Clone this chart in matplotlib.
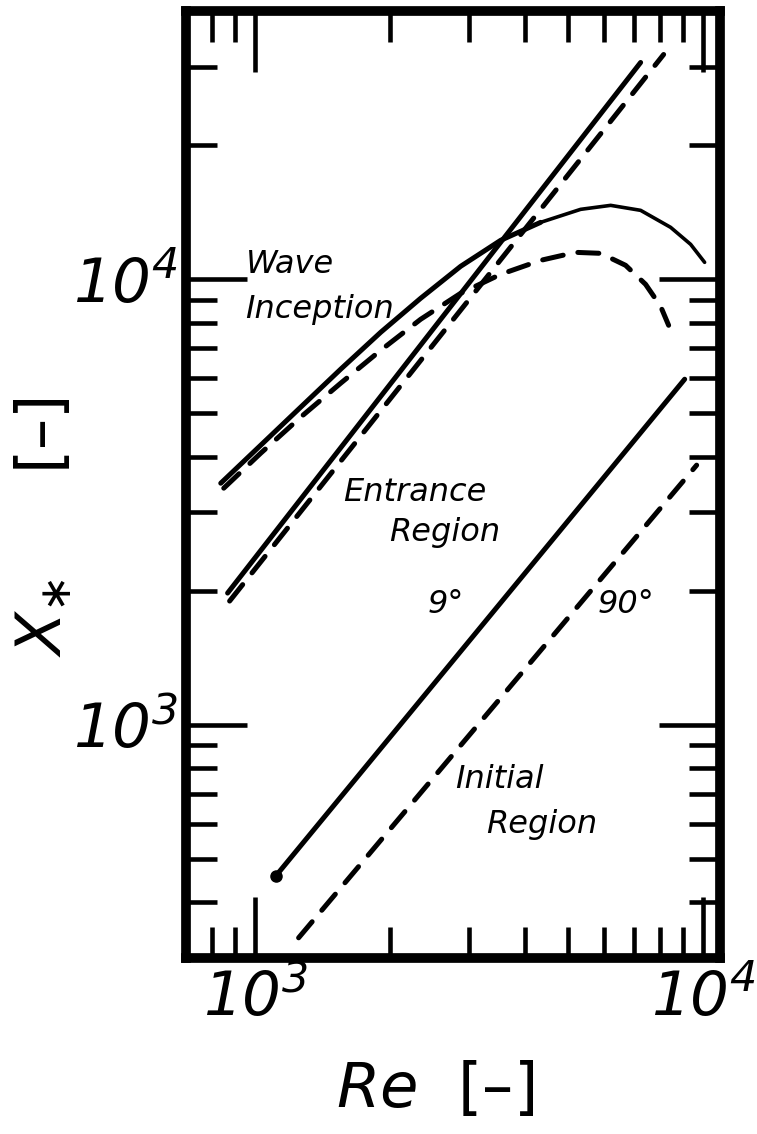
import matplotlib
matplotlib.use('Agg')
import matplotlib.pyplot as plt
from matplotlib.ticker import LogLocator, NullFormatter, FixedLocator, FixedFormatter

plt.rcParams['font.family'] = ['DejaVu Sans']
plt.rcParams['mathtext.fontset'] = 'custom'
plt.rcParams['mathtext.rm'] = 'DejaVu Sans:italic'
plt.rcParams['mathtext.it'] = 'DejaVu Sans:italic'

# wave inception: 9 deg (solid) and 90 deg (dashed)
re_wave_9 = [837, 1028, 1262, 1550, 1905, 2339, 2873, 3529, 4334, 5324, 6213, 7248, 8456, 9373, 10072]
xs_wave_9 = [3487, 4244, 5164, 6283, 7606, 9066, 10694, 12231, 13421, 14355, 14654, 14281, 13081, 11981, 10917]
re_wave_90 = [850, 1028, 1262, 1550, 1905, 2339, 2873, 3529, 4334, 5189, 5901, 6709, 7435, 8033, 8370]
xs_wave_90 = [3399, 4073, 4905, 5845, 6931, 8134, 9303, 10261, 11030, 11495, 11437, 10750, 9745, 8699, 7886]

# entrance region
re_entr_9 = [867, 7248]
xs_entr_9 = [1977, 30660]
re_entr_90 = [876, 8158]
xs_entr_90 = [1897, 31950]

# initial region
re_init_9 = [1110, 9090]
xs_init_9 = [458, 5968]
re_init_90 = [1249, 9667]
xs_init_90 = [333, 3828]

# curve annotations: text, Re, X*
notes = [
    ('Wave', 951, 10315),
    ('Inception', 951, 8176),
    ('Entrance', 1574, 3178),
    ('Region', 1985, 2585),
    ('9°', 2420, 1783),
    ('90°', 5800, 1783),
    ('Initial', 2800, 722),
    ('Region', 3268, 573),
]

major_ticks = [1e3, 1e4]
major_labels = [r'$10^3$', r'$10^4$']


def _main() -> None:
    fig = plt.figure(figsize=(7.57, 11.34), dpi=100)
    ax = fig.add_axes([0.2457, 0.1552, 0.7054, 0.8351])
    ax.set_xscale('log')
    ax.set_yscale('log')
    ax.set_xlim(700, 10900)
    ax.set_ylim(300, 40000)

    lw = 3.6
    dash = dict(linestyle=(0, (4.2, 3.0)), dash_capstyle='round')
    solid = dict(solid_capstyle='round', solid_joinstyle='round')
    # the wave curve thins out past its maximum
    k = 8
    ax.plot(re_wave_9[:k + 1], xs_wave_9[:k + 1], 'k-', lw=lw, **solid)
    ax.plot(re_wave_9[k:], xs_wave_9[k:], 'k-', lw=2.6, **solid)
    ax.plot(re_wave_90, xs_wave_90, 'k', lw=lw, **dash)
    ax.plot(re_entr_9, xs_entr_9, 'k-', lw=lw, **solid)
    ax.plot(re_entr_90, xs_entr_90, 'k', lw=lw, **dash)
    ax.plot(re_init_9, xs_init_9, 'k-', lw=lw, marker='o', markevery=[0],
            markersize=8, **solid)
    ax.plot(re_init_90, xs_init_90, 'k', lw=lw, **dash)

    for text, x, y in notes:
        ax.text(x, y, text, fontsize=23, style='italic', ha='left', va='baseline')

    ax.xaxis.set_major_locator(FixedLocator(major_ticks))
    ax.yaxis.set_major_locator(FixedLocator(major_ticks))
    ax.xaxis.set_major_formatter(FixedFormatter(major_labels))
    ax.yaxis.set_major_formatter(FixedFormatter(major_labels))
    ax.xaxis.set_minor_locator(LogLocator(base=10, subs=range(2, 10), numticks=20))
    ax.yaxis.set_minor_locator(LogLocator(base=10, subs=range(2, 10), numticks=20))
    ax.xaxis.set_minor_formatter(NullFormatter())
    ax.yaxis.set_minor_formatter(NullFormatter())

    ax.tick_params(which='both', direction='in', top=True, right=True, width=3.3)
    ax.tick_params(which='major', length=44, labelsize=44)
    ax.tick_params(which='minor', length=22)
    ax.tick_params(axis='x', which='major', pad=8)
    ax.tick_params(axis='y', which='major', pad=6)

    for spine in ax.spines.values():
        spine.set_linewidth(7)
        spine.set_capstyle('projecting')

    ax.set_xlabel(r'$Re$  [–]', fontsize=45)
    ax.xaxis.set_label_coords(0.466, -0.108)
    ax.set_ylabel(r'$X_{\ast}$     [–]', fontsize=45)
    ax.yaxis.set_label_coords(-0.208, 0.455)

    fig.savefig('out.png', dpi=100)


if __name__ == '__main__':
    _main()
